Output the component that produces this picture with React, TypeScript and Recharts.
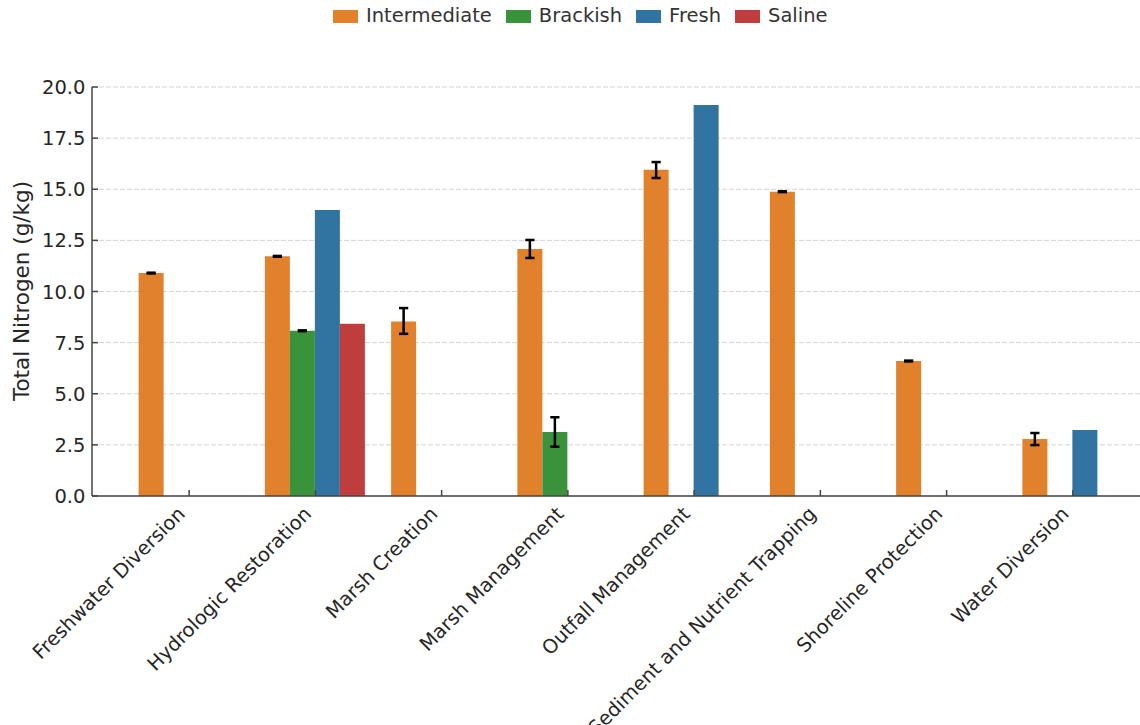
import { BarChart, Bar, XAxis, YAxis, CartesianGrid, ErrorBar, Label } from 'recharts';

const FONT = '"DejaVu Sans", Verdana, sans-serif';

const categories = [
  'Freshwater Diversion',
  'Hydrologic Restoration',
  'Marsh Creation',
  'Marsh Management',
  'Outfall Management',
  'Sediment and Nutrient Trapping',
  'Shoreline Protection',
  'Water Diversion',
];

// mean values per habitat type (g/kg)
const intermediate = [10.9, 11.72, 8.53, 12.08, 15.95, 14.88, 6.6, 2.79];
const brackish = [null, 8.08, null, 3.13, null, null, null, null];
const fresh = [null, 13.98, null, null, 19.12, null, null, 3.23];
const saline = [null, 8.42, null, null, null, null, null, null];

// error bars as [below, above] offsets
const intermediateErr = [[0.02, 0.02], [0.02, 0.02], [0.6, 0.66], [0.44, 0.44], [0.4, 0.38], [0.02, 0.02], [0.02, 0.02], [0.3, 0.29]];
const brackishErr = [null, [0.02, 0.02], null, [0.72, 0.72], null, null, null, null];

const yTicks = [0, 2.5, 5, 7.5, 10, 12.5, 15, 17.5, 20];

const series = [
  { key: 'intermediate', name: 'Intermediate', color: '#e1812c', err: 'intermediateErr' },
  { key: 'brackish', name: 'Brackish', color: '#3a923a', err: 'brackishErr' },
  { key: 'fresh', name: 'Fresh', color: '#3274a1', err: null },
  { key: 'saline', name: 'Saline', color: '#c03d3e', err: null },
];

const data = categories.map((name, i) => ({
  name,
  intermediate: intermediate[i],
  brackish: brackish[i],
  fresh: fresh[i],
  saline: saline[i],
  intermediateErr: intermediateErr[i],
  brackishErr: brackishErr[i] ?? undefined,
}));

const XTick = ({ x, y, payload }: any) => (
  <g>
    <line x1={x} y1={y} x2={x} y2={y - 6} stroke="#444" strokeWidth={1.5} />
    <text
      x={x - 3}
      y={y + 19}
      transform={`rotate(-45 ${x - 3} ${y + 19})`}
      textAnchor="end"
      fontSize={19.5}
      fontFamily={FONT}
      fill="#262626"
    >
      {payload.value}
    </text>
  </g>
);

const YTick = ({ x, y, payload }: any) => (
  <g>
    <line x1={x + 6.6} y1={y} x2={x + 12.6} y2={y} stroke="#444" strokeWidth={1.5} />
    <text x={x} y={y} dy="0.36em" textAnchor="end" fontSize={19.5} fontFamily={FONT} fill="#262626">
      {payload.value.toFixed(1)}
    </text>
  </g>
);

export default function App() {
  return (
    <div style={{ position: 'absolute', left: 0, top: 0, width: 1140, height: 725, background: '#fff', fontFamily: FONT }}>
      <div style={{ position: 'absolute', left: 333, top: 5, display: 'flex', alignItems: 'center', height: 22 }}>
        {series.map((s) => (
          <div key={s.key} style={{ display: 'flex', alignItems: 'center', marginRight: 14 }}>
            <div style={{ width: 25, height: 13, background: s.color, marginRight: 8 }} />
            <span style={{ fontSize: 19.5, color: '#333', lineHeight: '22px' }}>{s.name}</span>
          </div>
        ))}
      </div>
      <BarChart
        width={1140}
        height={725}
        data={data}
        margin={{ top: 87, right: 0, bottom: 199, left: 0 }}
        barCategoryGap="10%"
        barGap={0}
      >
        <CartesianGrid vertical={false} stroke="#d4d4d4" strokeDasharray="5 2" />
        <XAxis
          dataKey="name"
          interval={0}
          height={30}
          padding={{ left: 34, right: 4 }}
          tick={<XTick />}
          tickLine={false}
          tickSize={0}
          tickMargin={0}
          axisLine={{ stroke: '#444', strokeWidth: 1.5 }}
        />
        <YAxis
          width={92}
          domain={[0, 20]}
          ticks={yTicks}
          interval={0}
          tick={<YTick />}
          tickLine={false}
          tickSize={0}
          tickMargin={6.6}
          axisLine={{ stroke: '#444', strokeWidth: 1.5 }}
        >
          <Label
            content={() => (
              <text
                x={29}
                y={291}
                transform="rotate(-90 29 291)"
                textAnchor="middle"
                fontSize={21.5}
                fontFamily={FONT}
                fill="#262626"
              >
                Total Nitrogen (g/kg)
              </text>
            )}
          />
        </YAxis>
        {series.map((s) => (
          <Bar key={s.key} dataKey={s.key} name={s.name} fill={s.color} isAnimationActive={false}>
            {s.err && (
              <ErrorBar dataKey={s.err} width={4.6} strokeWidth={2.5} stroke="#000" direction="y" />
            )}
          </Bar>
        ))}
      </BarChart>
    </div>
  );
}
